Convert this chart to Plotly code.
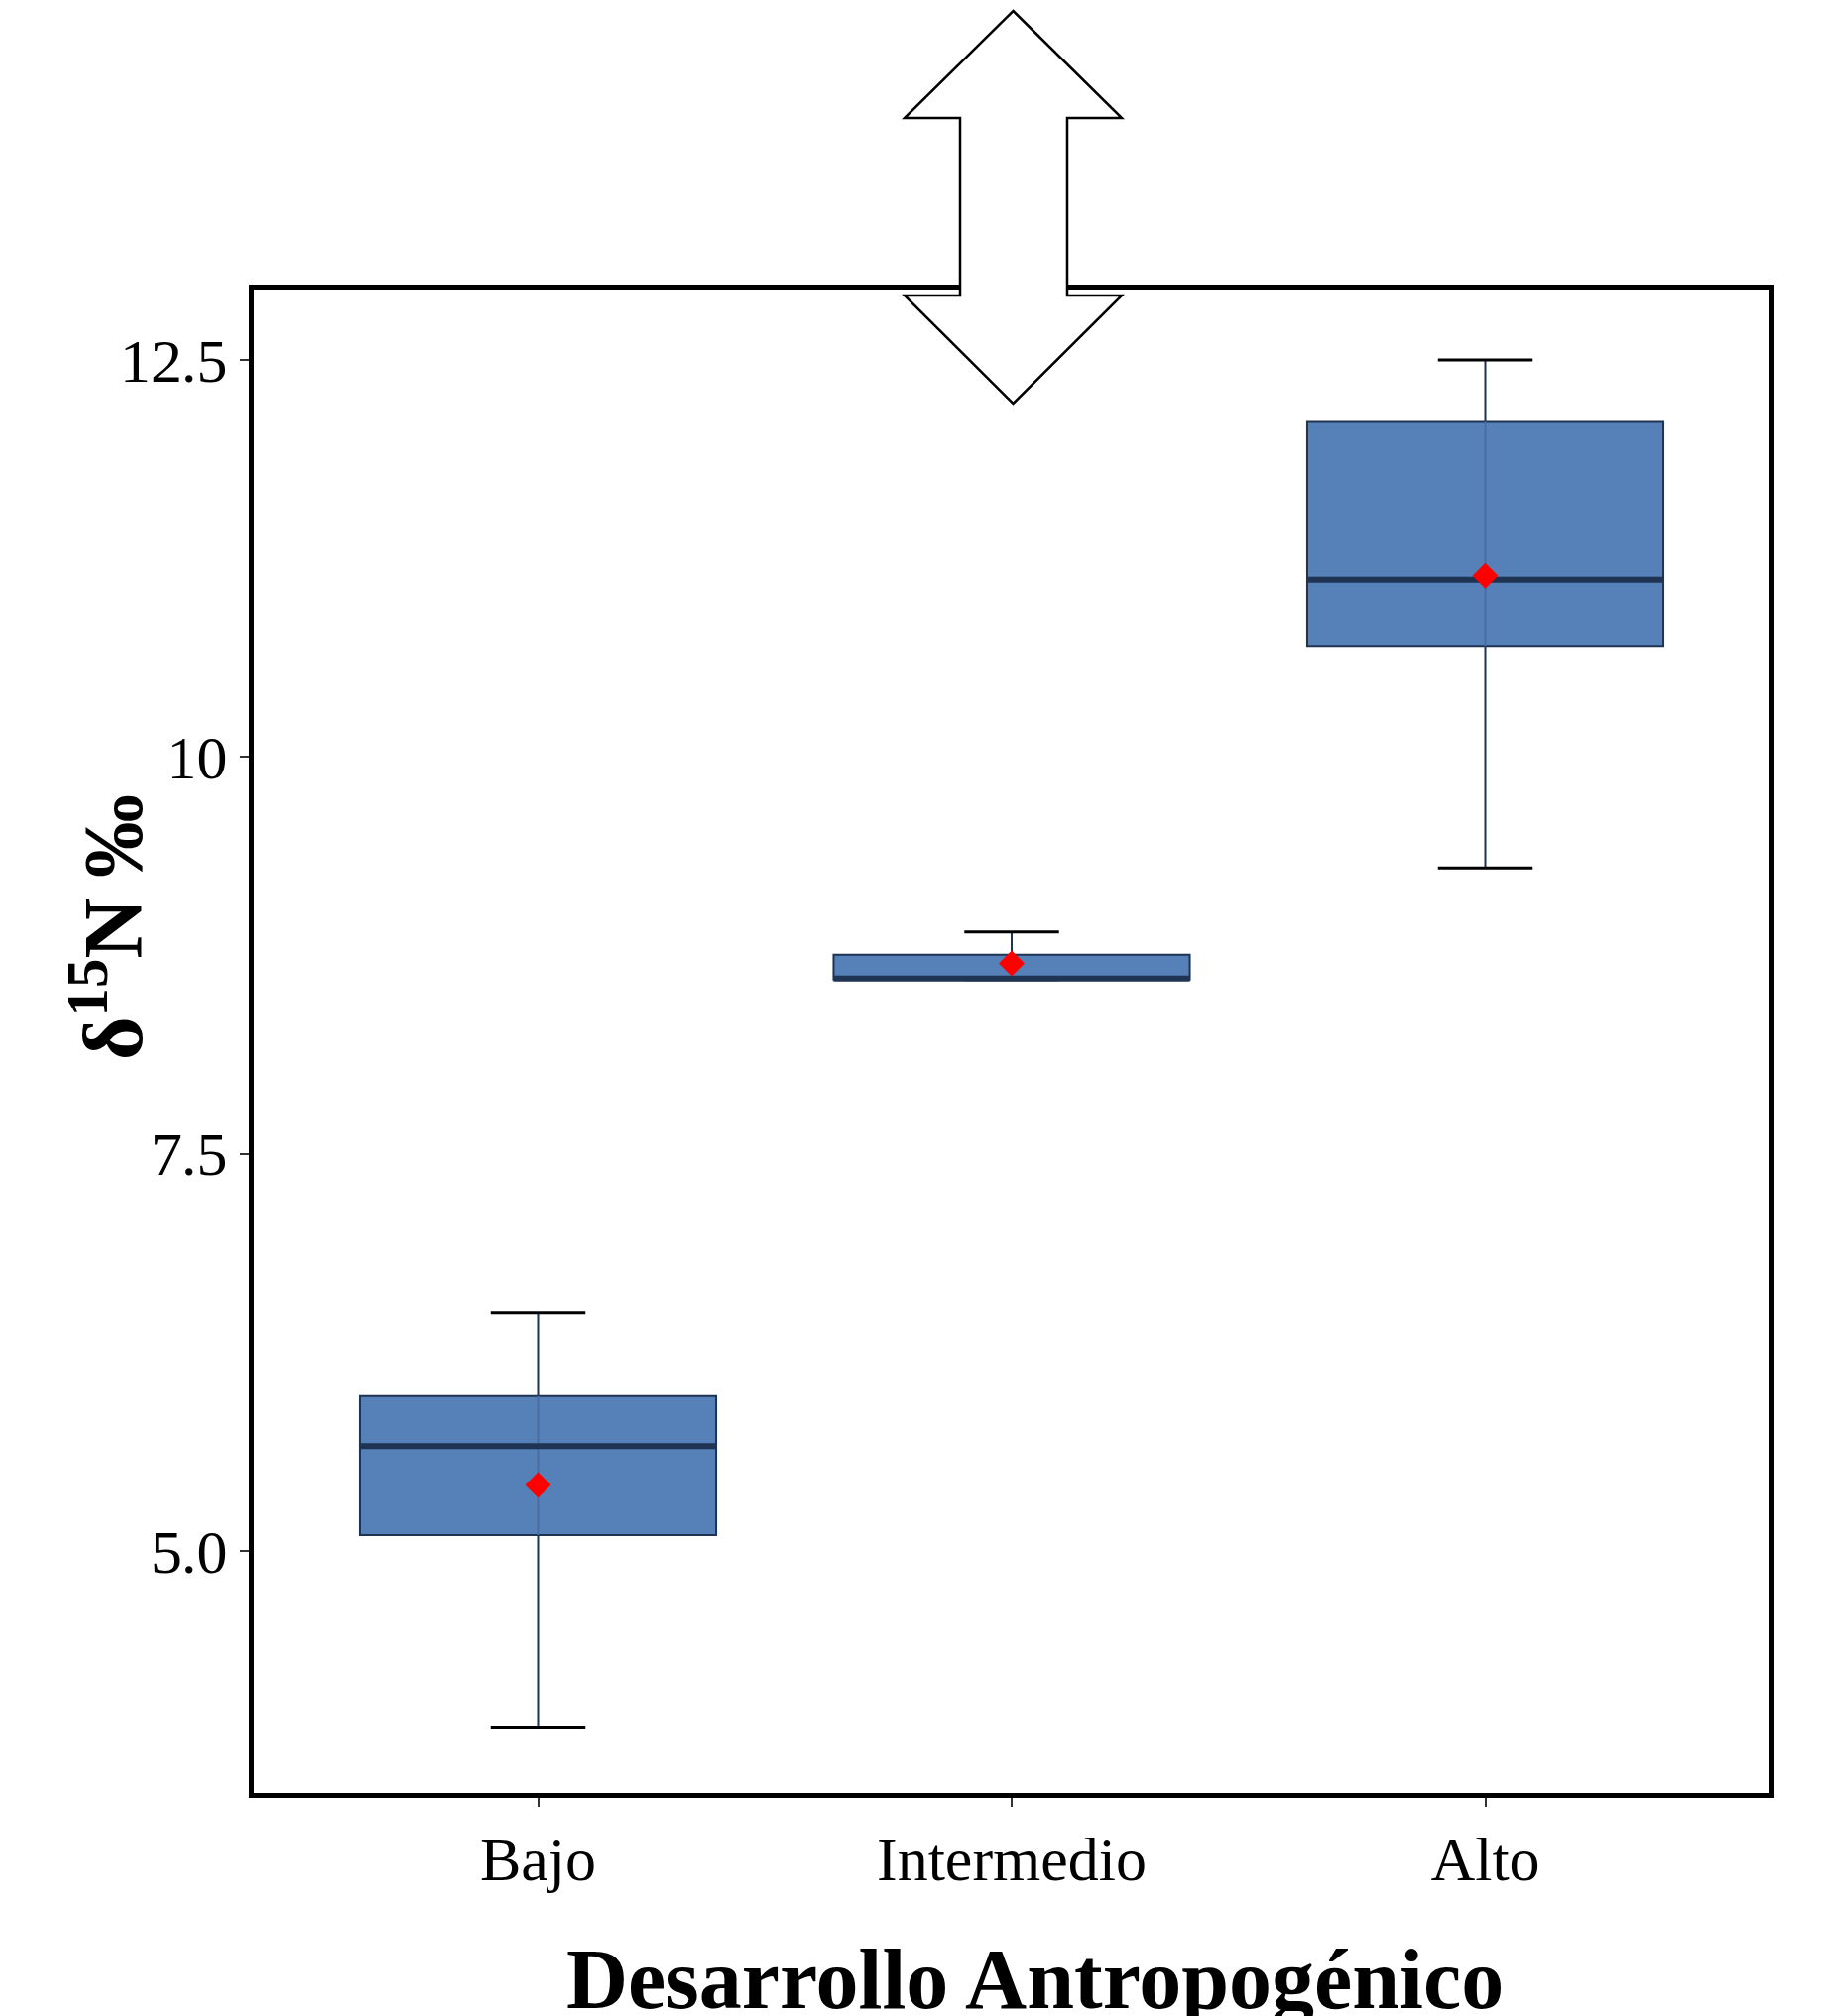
import plotly.graph_objects as go

# ---------------- data ----------------
categories = ["Bajo", "Intermedio", "Alto"]
positions = [0, 1, 2]
q1 = [5.10, 8.598, 10.70]
median = [5.66, 8.605, 11.115]
q3 = [5.975, 8.755, 12.11]
lower_fence = [3.885, 8.598, 9.30]
upper_fence = [6.50, 8.898, 12.50]
means = [5.415, 8.70, 11.14]
y_ticks = [5.0, 7.5, 10.0, 12.5]
y_tick_labels = ["5.0", "7.5", "10", "12.5"]

# ---------------- styling ----------------
W, H = 1838, 2033
OFF = 8  # page body margin offset
ML, MR, MT, MB = 248, 62, 284, 233
FONT = "Liberation Serif"
BOX_FILL = "#5580b8"
EDGE = "#1f3352"
BOX_W = 0.752
CAP_HALF = 0.1

fig = go.Figure()

for i, cat in enumerate(categories):
    fig.add_trace(go.Box(
        x=[positions[i]], q1=[q1[i]], median=[median[i]], q3=[q3[i]],
        lowerfence=[lower_fence[i]], upperfence=[upper_fence[i]],
        width=BOX_W, fillcolor=BOX_FILL,
        line=dict(color=EDGE, width=2), whiskerwidth=0,
        boxpoints=False, showlegend=False, name=cat, hoverinfo="skip",
    ))

# whisker stem seen through the box
sx, sy = [], []
for i in range(len(categories)):
    sx += [positions[i], positions[i], None]
    sy += [q1[i], q3[i], None]
fig.add_trace(go.Scatter(x=sx, y=sy, mode="lines",
                         line=dict(color="#4a6ea2", width=2), showlegend=False, hoverinfo="skip"))

# caps
cx, cy = [], []
for i in range(len(categories)):
    for v in (lower_fence[i], upper_fence[i]):
        cx += [positions[i] - CAP_HALF, positions[i] + CAP_HALF, None]
        cy += [v, v, None]
fig.add_trace(go.Scatter(x=cx, y=cy, mode="lines",
                         line=dict(color="black", width=3), showlegend=False, hoverinfo="skip"))

# medians (thick)
mx, my = [], []
for i in range(len(categories)):
    mx += [positions[i] - BOX_W / 2, positions[i] + BOX_W / 2, None]
    my += [median[i], median[i], None]
fig.add_trace(go.Scatter(x=mx, y=my, mode="lines",
                         line=dict(color=EDGE, width=6), showlegend=False, hoverinfo="skip"))

# means
fig.add_trace(go.Scatter(x=positions, y=means, mode="markers",
                         marker=dict(symbol="diamond", color="red", size=20, line=dict(width=0)),
                         showlegend=False, hoverinfo="skip"))

# ---------------- double arrow decoration (screen pixel -> paper) ----------------
pw, ph = W - ML - MR, H - MT - MB
def px(xs):
    return (xs - OFF - ML) / pw
def py(ys):
    return (H - MB - (ys - OFF)) / ph

cxp = 1021.5
head_l, head_r = 912, 1131
sh_l, sh_r = 968, 1076
top_tip, top_base, bot_base, bot_tip = 11, 119, 298, 407
pts = [(cxp, top_tip), (head_r, top_base), (sh_r, top_base), (sh_r, bot_base),
       (head_r, bot_base), (cxp, bot_tip), (head_l, bot_base), (sh_l, bot_base),
       (sh_l, top_base), (head_l, top_base)]
path = "M " + " L ".join(f"{px(a):.5f},{py(b):.5f}" for a, b in pts) + " Z"
fig.add_shape(type="path", path=path, xref="paper", yref="paper",
              fillcolor="white", line=dict(color="black", width=2.5), layer="above")

# ---------------- titles as annotations ----------------
fig.add_annotation(text="<b>δ<sup>15</sup>N ‰</b>", xref="paper", yref="paper",
                   x=px(108), y=py(935), textangle=-90, showarrow=False,
                   xanchor="center", yanchor="middle",
                   font=dict(family=FONT, size=84, color="black"))
fig.add_annotation(text="<b>Desarrollo Antropogénico</b>", xref="paper", yref="paper",
                   x=px(1043), y=py(1996), showarrow=False,
                   xanchor="center", yanchor="middle",
                   font=dict(family=FONT, size=86, color="black"))

fig.update_layout(
    width=W, height=H,
    margin=dict(l=ML, r=MR, t=MT, b=MB, autoexpand=False),
    paper_bgcolor="white", plot_bgcolor="white",
    font=dict(family=FONT, color="black"),
    showlegend=False,
)
fig.update_xaxes(range=[-0.6, 2.6], tickvals=positions, ticktext=categories,
                 showgrid=False, zeroline=False, showline=True, linecolor="black",
                 linewidth=5, mirror=True, ticks="outside", ticklen=9, tickwidth=2,
                 tickcolor="#333333", tickfont=dict(family=FONT, size=62, color="black"))
fig.update_yaxes(range=[3.476, 12.943], tickvals=y_ticks, ticktext=y_tick_labels,
                 showgrid=False, zeroline=False, showline=True, linecolor="black",
                 linewidth=5, mirror=True, ticks="outside", ticklen=9, tickwidth=2,
                 tickcolor="#333333", tickfont=dict(family=FONT, size=62, color="black"))

fig.write_html("out.html")
